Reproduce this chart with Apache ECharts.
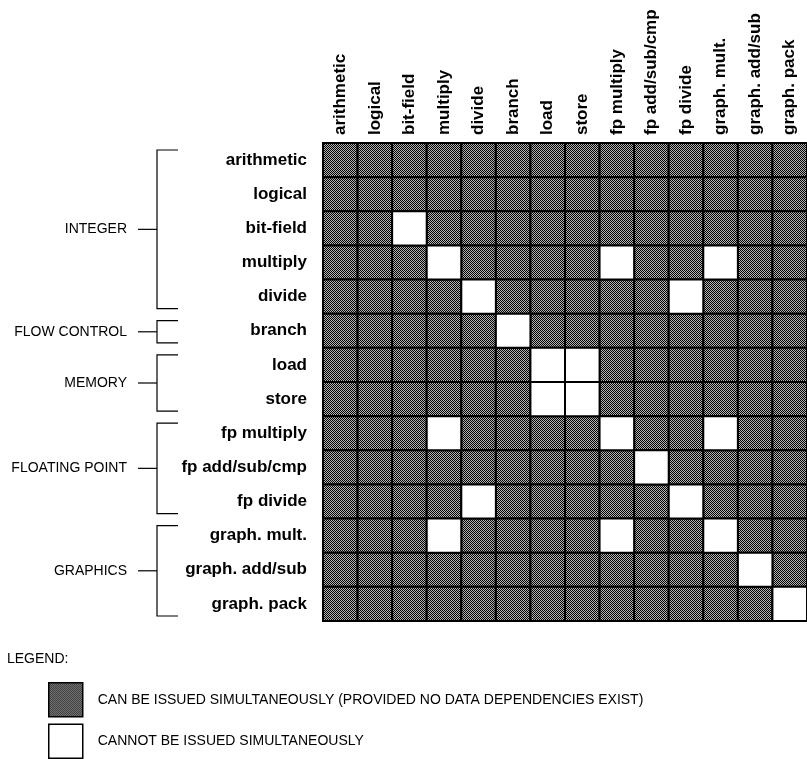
<!DOCTYPE html>
<html>
<head>
<meta charset="utf-8">
<script src="https://cdn.jsdelivr.net/npm/echarts@6/dist/echarts.min.js"></script>
<style>
  html, body { margin: 0; padding: 0; background: #fff; }
  #chart { width: 807px; height: 759px; }
</style>
</head>
<body>
<div id="chart"></div>
<script>
// instruction classes, same order on both axes
var ops = ['arithmetic', 'logical', 'bit-field', 'multiply', 'divide', 'branch', 'load', 'store',
  'fp multiply', 'fp add/sub/cmp', 'fp divide', 'graph. mult.', 'graph. add/sub', 'graph. pack'];

// pairs that cannot be issued together: [row, column]
var conflicts = [
  ['bit-field', 'bit-field'],
  ['multiply', 'multiply'], ['multiply', 'fp multiply'], ['multiply', 'graph. mult.'],
  ['divide', 'divide'], ['divide', 'fp divide'],
  ['branch', 'branch'],
  ['load', 'load'], ['load', 'store'],
  ['store', 'load'], ['store', 'store'],
  ['fp multiply', 'multiply'], ['fp multiply', 'fp multiply'], ['fp multiply', 'graph. mult.'],
  ['fp add/sub/cmp', 'fp add/sub/cmp'],
  ['fp divide', 'divide'], ['fp divide', 'fp divide'],
  ['graph. mult.', 'multiply'], ['graph. mult.', 'fp multiply'], ['graph. mult.', 'graph. mult.'],
  ['graph. add/sub', 'graph. add/sub'],
  ['graph. pack', 'graph. pack']
];

var groupNames = ['INTEGER', 'FLOW CONTROL', 'MEMORY', 'FLOATING POINT', 'GRAPHICS'];
var groupFirst = ['arithmetic', 'branch', 'load', 'fp multiply', 'graph. mult.'];
var groupLast = ['divide', 'branch', 'store', 'fp divide', 'graph. pack'];

var legendNames = ['CAN BE ISSUED SIMULTANEOUSLY (PROVIDED NO DATA DEPENDENCIES EXIST)',
  'CANNOT BE ISSUED SIMULTANEOUSLY'];

// checkerboard screen like the printed halftone
var tile = document.createElement('canvas');
tile.width = 2; tile.height = 2;
var tctx = tile.getContext('2d');
tctx.fillStyle = '#b4b4b4';
tctx.fillRect(0, 0, 2, 2);
tctx.fillStyle = '#000';
tctx.fillRect(0, 0, 1, 1);
tctx.fillRect(1, 1, 1, 1);
var screen = { image: tile, repeat: 'repeat' };

var canData = [], cannotData = [];
ops.forEach(function (r) {
  ops.forEach(function (c) {
    var bad = conflicts.some(function (p) { return p[0] === r && p[1] === c; });
    (bad ? cannotData : canData).push([c, r]);
  });
});

function cell(params, api) {
  var p = api.coord([api.value(0), api.value(1)]);
  var s = api.size([1, 1]);
  return {
    type: 'rect',
    shape: { x: p[0] - s[0] / 2, y: p[1] - s[1] / 2, width: s[0], height: s[1] },
    style: { fill: api.visual('color'), stroke: '#000', lineWidth: 2 }
  };
}

var font = 'Liberation Sans';
var myChart = echarts.init(document.getElementById('chart'));
var option = {
  animation: false,
  textStyle: { fontFamily: font },
  grid: { left: 323, right: 0, top: 143, bottom: 138 },
  xAxis: {
    type: 'category', position: 'top', data: ops,
    axisLine: { show: false }, axisTick: { show: false }, splitLine: { show: false },
    axisLabel: { rotate: -90, margin: 8, color: '#000', fontWeight: 'bold', fontSize: 17, fontFamily: font, interval: 0 }
  },
  yAxis: {
    type: 'category', inverse: true, data: ops,
    axisLine: { show: false }, axisTick: { show: false }, splitLine: { show: false },
    axisLabel: { margin: 16, color: '#000', fontWeight: 'bold', fontSize: 17, fontFamily: font, interval: 0 }
  },
  legend: {
    orient: 'vertical', left: 48, top: 682, padding: 0, itemWidth: 34, itemHeight: 34, itemGap: 6,
    icon: 'rect', selectedMode: false,
    itemStyle: { borderColor: '#000', borderWidth: 1.5 },
    textStyle: { color: '#000', fontSize: 14, fontFamily: font, padding: [0, 0, 3, 10] },
    data: legendNames
  },
  series: [
    { type: 'custom', name: legendNames[0], renderItem: cell, itemStyle: { color: screen }, data: canData },
    { type: 'custom', name: legendNames[1], renderItem: cell, itemStyle: { color: '#fff' }, data: cannotData }
  ]
};
myChart.setOption(option);

// group brackets on the left, placed from the row axis
var half = myChart.getModel().getComponent('yAxis', 0).axis.getBandWidth() / 2;
var elements = [{
  type: 'text', left: 7, top: 652,
  style: { text: 'LEGEND:', fill: '#000', font: '14px "' + font + '"' }
}];
groupNames.forEach(function (g, i) {
  var y0 = myChart.convertToPixel({ yAxisIndex: 0 }, groupFirst[i]) - half + 7;
  var y1 = myChart.convertToPixel({ yAxisIndex: 0 }, groupLast[i]) + half - 5;
  var mid = (y0 + y1) / 2;
  elements.push({
    type: 'polyline',
    shape: { points: [[178, y0], [157, y0], [157, y1], [178, y1]] },
    style: { stroke: '#000', lineWidth: 1.2, fill: null }
  });
  elements.push({
    type: 'line', shape: { x1: 138, y1: mid, x2: 157, y2: mid },
    style: { stroke: '#000', lineWidth: 1.2 }
  });
  elements.push({
    type: 'text', x: 127, y: mid,
    style: { text: g, fill: '#000', font: '14px "' + font + '"', align: 'right', verticalAlign: 'middle' }
  });
});
myChart.setOption({ graphic: elements });
</script>
</body>
</html>
